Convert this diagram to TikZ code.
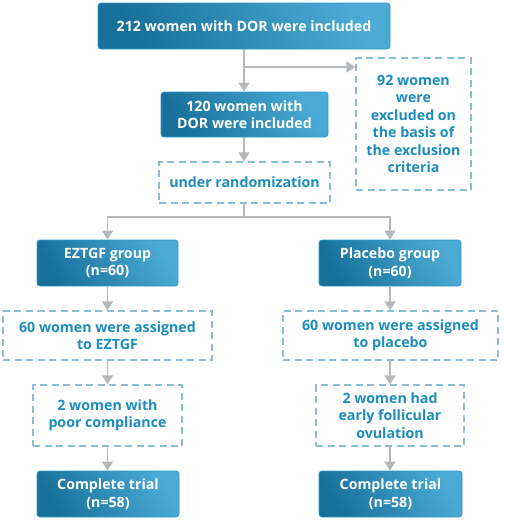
\documentclass[tikz,border=0pt]{standalone}
\usepackage{fontspec}
\setmainfont{Open Sans}
\usetikzlibrary{arrows.meta}
\definecolor{boxdark}{HTML}{17709A}
\definecolor{boxlight}{HTML}{4BABD4}
\definecolor{boxedge}{HTML}{2C9ACB}
\definecolor{dashcol}{HTML}{8DBDD5}
\definecolor{dashtext}{HTML}{1A8DBE}
\definecolor{arrcol}{HTML}{B5B9BC}
\tikzset{
  solidbox/.style={rectangle, rounded corners=3pt, draw=boxedge, line width=0.8pt,
    top color=boxlight, bottom color=boxdark, shading angle=-60,
    text=white, font=\fontsize{14.2}{17.5}\selectfont\bfseries, align=center, inner sep=0pt},
  dashbox/.style={rectangle, draw=dashcol, line width=1.3pt, dash pattern=on 7pt off 4.5pt,
    text=dashtext, font=\fontsize{14.2}{17.5}\selectfont\bfseries, align=center, inner sep=0pt},
  conn/.style={draw=arrcol, line width=1.6pt},
  arr/.style={conn, -{Triangle[width=11pt,length=9pt]}},
}
\begin{document}
\begin{tikzpicture}[x=1pt,y=-1pt]
\useasboundingbox (0,0) rectangle (505,523);
\node[solidbox, minimum width=292pt, minimum height=46pt] (top) at (244,26) {212 women with DOR were included};
\node[solidbox, minimum width=167pt, minimum height=45pt] (n120) at (244.5,114.5) {120 women with\\DOR were included};
\node[dashbox, minimum width=171pt, minimum height=41pt] (rand) at (244.5,182.5) {under randomization};
\node[dashbox, minimum width=115pt, minimum height=132pt] (excl) at (413.5,124) {92 women\\were\\excluded on\\the basis of\\the exclusion\\criteria};
\node[solidbox, minimum width=141pt, minimum height=46pt] (ez) at (107.5,263) {EZTGF group\\(n=60)};
\node[solidbox, minimum width=142pt, minimum height=46pt] (pl) at (390,263) {Placebo group\\(n=60)};
\node[dashbox, minimum width=209pt, minimum height=49pt] (asL) at (107.5,335.5) {60 women were assigned\\to EZTGF};
\node[dashbox, minimum width=215pt, minimum height=49pt] (asR) at (390.5,335.5) {60 women were assigned\\to placebo};
\node[dashbox, minimum width=149pt, minimum height=61pt] (poor) at (107.5,415.5) {2 women with\\poor compliance};
\node[dashbox, minimum width=148pt, minimum height=61pt] (early) at (390,415.5) {2 women had\\early follicular\\ovulation};
\node[solidbox, minimum width=142pt, minimum height=46pt] (cL) at (108,494) {Complete trial\\(n=58)};
\node[solidbox, minimum width=143pt, minimum height=46pt] (cR) at (390.5,494) {Complete trial\\(n=58)};
% connectors
\draw[arr] (top.south -| 244,0) -- (n120.north -| 244,0);
\coordinate (b1) at (244,67);
\draw[arr] (b1) -- (b1 -| excl.west);
\draw[arr] (n120.south -| 244,0) -- (rand.north -| 244,0);
\coordinate (sp) at (244,217);
\draw[conn] (rand.south -| 244,0) -- (sp);
\draw[arr] (sp) -| (ez.north);
\draw[arr] (sp) -| (pl.north);
\draw[arr] (ez.south) -- (asL.north -| ez.south);
\draw[arr] (pl.south) -- (asR.north -| pl.south);
\draw[arr] (asL.south -| ez.south) -- (poor.north -| ez.south);
\draw[arr] (asR.south -| pl.south) -- (early.north -| pl.south);
\draw[arr] (poor.south -| ez.south) -- (cL.north -| ez.south);
\draw[arr] (early.south -| pl.south) -- (cR.north -| pl.south);
\end{tikzpicture}
\end{document}
